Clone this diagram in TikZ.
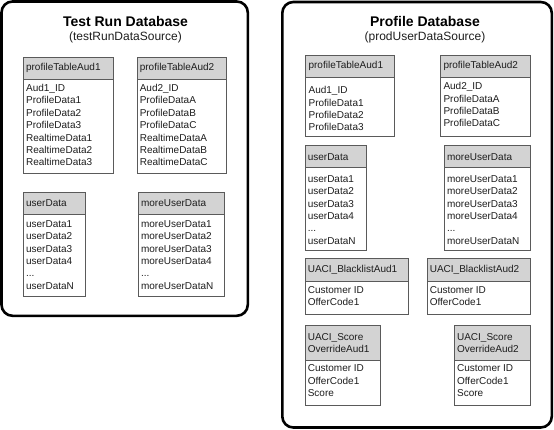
\documentclass[tikz,border=0pt]{standalone}
\usepackage{fontspec}
\setmainfont{Liberation Sans}
\definecolor{hdrgray}{HTML}{D3D3D3}
\definecolor{tabline}{HTML}{5A5A5A}
\definecolor{txt}{HTML}{1E1E1E}
\tikzset{
  container/.style={draw=black, line width=2.6pt, rounded corners=11pt},
  hdrbox/.style={draw=tabline, fill=hdrgray, line width=0.9pt, inner sep=0pt, outer sep=0pt, anchor=north west},
  bodybox/.style={draw=tabline, fill=white, line width=0.9pt, inner sep=0pt, outer sep=0pt, anchor=north west},
  hdrtext/.style={inner sep=0pt, anchor=west, align=left, text=txt, font={\fontsize{10}{11.7}\selectfont}},
  bodytext/.style={inner sep=0pt, anchor=north west, align=left, text=txt, font={\fontsize{10}{12.4}\selectfont}},
  titletext/.style={inner sep=0pt, font={\fontsize{14}{16}\selectfont\bfseries}},
  subtext/.style={inner sep=0pt, text=txt, font={\fontsize{12}{14}\selectfont}},
}
% #1 name, #2 x1, #3 y top, #4 x2, #5 y header bottom, #6 y bottom, #7 header, #8 first row centre, #9 body
\newcommand{\dbtab}[9]{%
  \node[bodybox, minimum width={#4-#2}, minimum height={#6-#3}] (#1b) at (#2,#3) {};
  \node[hdrbox, minimum width={#4-#2}, minimum height={#5-#3}] (#1h) at (#2,#3) {};
  \node[hdrtext] (#1ht) at ({#2+2.6},{(#3+#5)/2}) {#7};
  \node[bodytext] (#1bt) at ({#2+2.6},{#8-3.7}) {#9};
}
\begin{document}
\begin{tikzpicture}[x=1pt,y=-1pt]
\useasboundingbox (0,0) rectangle (554,430);
% containers
\draw[container] (1.5,1.5) rectangle (247.8,315.8);
\draw[container] (282.3,2) rectangle (551.8,427.5);
% titles
\node[titletext] (ltitle) at (125.5,21) {Test Run Database};
\node[subtext] (lsub) at (125.5,37.5) {(testRunDataSource)};
\node[titletext] (rtitle) at (425,21) {Profile Database};
\node[subtext] (rsub) at (425,37.5) {(prodUserDataSource)};
% left tables
\dbtab{la}{23.3}{57}{113.3}{79.3}{173.3}{profileTableAud1}{87.7}{Aud1\_ID\\ProfileData1\\ProfileData2\\ProfileData3\\RealtimeData1\\RealtimeData2\\RealtimeData3}
\dbtab{lb}{137}{57}{226.7}{79.3}{173.3}{profileTableAud2}{87.7}{Aud2\_ID\\ProfileDataA\\ProfileDataB\\ProfileDataC\\RealtimeDataA\\RealtimeDataB\\RealtimeDataC}
\dbtab{lc}{23.3}{192.3}{85.7}{214.3}{296.7}{userData}{224}{userData1\\userData2\\userData3\\userData4\\...\\userDataN}
\dbtab{ld}{138.3}{192.3}{224.3}{214.3}{296.7}{moreUserData}{224}{moreUserData1\\moreUserData2\\moreUserData3\\moreUserData4\\...\\moreUserDataN}
% right tables
\dbtab{ra}{305.8}{55}{394.8}{77.7}{136}{profileTableAud1}{90}{Aud1\_ID\\ProfileData1\\ProfileData2\\ProfileData3}
\dbtab{rb}{440.7}{55}{530.3}{77.7}{136}{profileTableAud2}{86}{Aud2\_ID\\ProfileDataA\\ProfileDataB\\ProfileDataC}
\dbtab{rc}{305}{145.7}{366.7}{167.7}{250}{userData}{179}{userData1\\userData2\\userData3\\userData4\\...\\userDataN}
\dbtab{rd}{444.3}{145.7}{530.3}{167.7}{250}{moreUserData}{179}{moreUserData1\\moreUserData2\\moreUserData3\\moreUserData4\\...\\moreUserDataN}
\dbtab{re}{305}{258.3}{408.3}{281}{314}{UACI\_BlacklistAud1}{290}{Customer ID\\OfferCode1}
\dbtab{rf}{427}{258.3}{530.3}{281}{314}{UACI\_BlacklistAud2}{290}{Customer ID\\OfferCode1}
\dbtab{rg}{305}{325.7}{380.7}{360.7}{405.7}{UACI\_Score\\OverrideAud1}{368.3}{Customer ID\\OfferCode1\\Score}
\dbtab{rh}{454.3}{325.7}{530.3}{360.7}{405.7}{UACI\_Score\\OverrideAud2}{368.3}{Customer ID\\OfferCode1\\Score}
\end{tikzpicture}
\end{document}
